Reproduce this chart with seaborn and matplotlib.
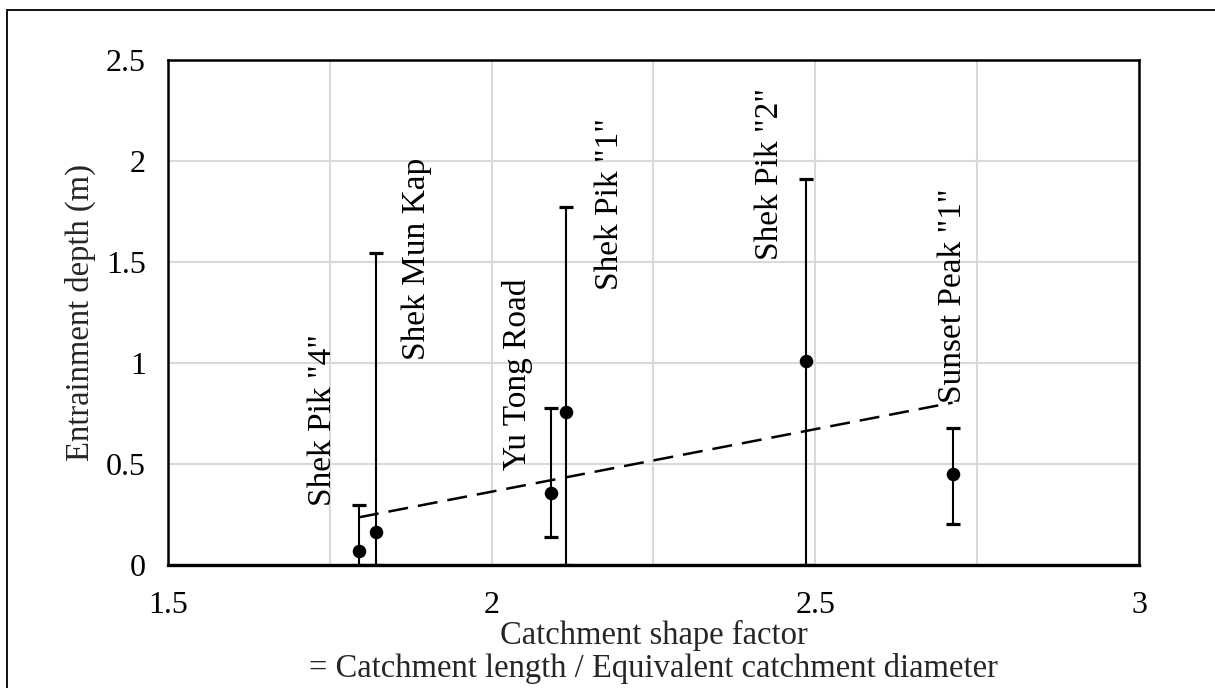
import numpy as np
import pandas as pd
import matplotlib
matplotlib.use("Agg")
import matplotlib.pyplot as plt
from matplotlib.patches import Rectangle
import seaborn as sns

# Catchment data
sites = ['Shek Pik "4"', "Shek Mun Kap", "Yu Tong Road", 'Shek Pik "1"', 'Shek Pik "2"', 'Sunset Peak "1"']
shape_factor = [1.795, 1.822, 2.091, 2.115, 2.486, 2.712]
depth_mean = [0.069, 0.162, 0.358, 0.759, 1.010, 0.452]
depth_low = [0.0, 0.0, 0.137, 0.0, 0.0, 0.204]
depth_high = [0.295, 1.543, 0.777, 1.770, 1.909, 0.680]

# Anchor of each rotated site label (x, bottom of text) in data units
label_x = [1.7395, 1.885, 2.040, 2.183, 2.429, 2.713]
label_y = [0.292, 1.015, 0.470, 1.361, 1.510, 0.800]

x_ticks = [1.5, 2, 2.5, 3]
x_tick_labels = ["1.5", "2", "2.5", "3"]
y_ticks = [0, 0.5, 1, 1.5, 2, 2.5]
y_tick_labels = ["0", "0.5", "1", "1.5", "2", "2.5"]

df = pd.DataFrame({"site": sites, "x": shape_factor, "y": depth_mean,
                   "lo": depth_low, "hi": depth_high})

sns.set_theme(style="white")
plt.rcParams["font.family"] = ["Liberation Serif", "DejaVu Serif"]

fig = plt.figure(figsize=(12.15, 6.88), dpi=100)
ax = fig.add_axes([168 / 1215, 1 - 565 / 688, (1139 - 168) / 1215, (565 - 60) / 688])

# Grid: every 0.25 along x, every 0.5 along y
ax.set_xlim(1.5, 3)
ax.set_ylim(0, 2.5)
ax.set_xticks(x_ticks)
ax.set_xticklabels(x_tick_labels)
ax.set_xticks([1.75, 2.25, 2.75], minor=True)
ax.set_yticks(y_ticks)
ax.set_yticklabels(y_tick_labels)
ax.grid(True, which="both", axis="x", color="#d9d9d9", lw=1.5)
ax.grid(True, which="major", axis="y", color="#d9d9d9", lw=1.5)
ax.set_axisbelow(True)

# Range bars
yerr = np.array([df["y"] - df["lo"], df["hi"] - df["y"]])
ax.errorbar(df["x"], df["y"], yerr=yerr, fmt="none", ecolor="black",
            elinewidth=1.5, capsize=5, capthick=2.3, zorder=3)

# Linear trend through the mean depths
sns.regplot(data=df, x="x", y="y", scatter=False, ci=None, truncate=True, ax=ax,
            line_kws=dict(color="black", lw=1.8, linestyle=(0, (8, 4))))

# Mean depths
sns.scatterplot(data=df, x="x", y="y", ax=ax, color="black", s=95,
                edgecolor="black", linewidth=0, zorder=4, legend=False)

for name, lx, ly in zip(sites, label_x, label_y):
    ax.text(lx, ly, name, rotation=90, ha="center", va="bottom",
            fontsize=24, color="black", zorder=5)

ax.set_xlabel("Catchment shape factor\n= Catchment length / Equivalent catchment diameter",
              fontsize=23.5, labelpad=0, linespacing=1.05)
ax.set_ylabel("Entrainment depth (m)", fontsize=23.5, labelpad=7)
ax.tick_params(axis="both", which="both", length=0, labelsize=23, colors="black")
ax.tick_params(axis="x", pad=19)
ax.tick_params(axis="y", pad=16)
for sp in ax.spines.values():
    sp.set_visible(True)
    sp.set_color("black")
    sp.set_linewidth(1.8)
ax.spines["bottom"].set_linewidth(2.4)

# Outer chart-area frame
fig.patches.append(Rectangle((7 / 1215, -0.5), 2.0, 1.5 - 10 / 688, transform=fig.transFigure,
                             fill=False, edgecolor="black", lw=1.3))

fig.savefig("out.png", dpi=100)
